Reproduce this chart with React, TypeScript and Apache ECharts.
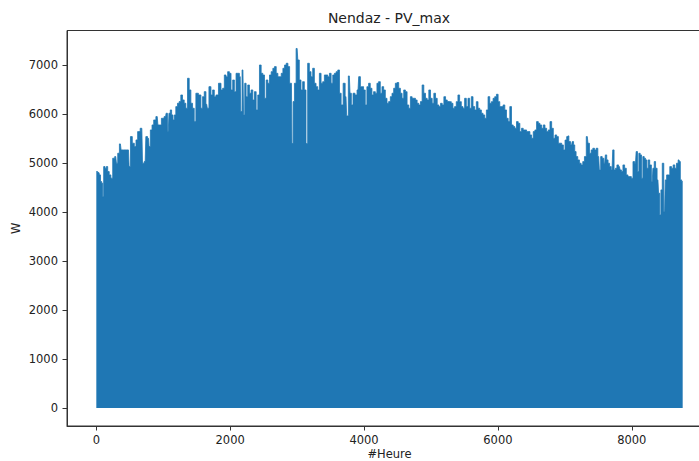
import React, { useEffect, useRef } from "react";
import * as echarts from "echarts";

const chartTitle = "Nendaz - PV_max";
const xAxisName = "#Heure";
const yAxisName = "W";
const xTickValues = [0, 2000, 4000, 6000, 8000];
const yTickValues = [0, 1000, 2000, 3000, 4000, 5000, 6000, 7000];

const hours = [
  0, 40, 55, 70, 90, 100, 120, 140, 160, 180, 205, 230, 260, 290, 310, 330, 360, 380, 430, 480,
  500, 520, 555, 580, 605, 630, 680, 700, 730, 750, 780, 795, 820, 845, 870, 910, 930, 955, 990, 1035,
  1050, 1075, 1095, 1115, 1135, 1155, 1175, 1200, 1225, 1250, 1275, 1300, 1325, 1350, 1375, 1400, 1425, 1450, 1475, 1500,
  1550, 1575, 1600, 1625, 1650, 1665, 1700, 1725, 1750, 1775, 1800, 1850, 1875, 1900, 1925, 1950, 1975, 2000, 2025, 2050,
  2075, 2100, 2125, 2150, 2165, 2190, 2210, 2225, 2250, 2275, 2300, 2325, 2350, 2375, 2400, 2425, 2450, 2475, 2500, 2525,
  2550, 2575, 2600, 2625, 2650, 2675, 2700, 2725, 2750, 2775, 2800, 2825, 2850, 2875, 2900, 2915, 2930, 2950, 2970, 3000,
  3020, 3045, 3070, 3095, 3120, 3145, 3170, 3195, 3220, 3245, 3270, 3295, 3320, 3345, 3370, 3395, 3420, 3445, 3470, 3495,
  3520, 3545, 3570, 3595, 3620, 3645, 3670, 3705, 3730, 3750, 3780, 3800, 3820, 3850, 3880, 3910, 3930, 3960, 3980, 4005,
  4030, 4055, 4080, 4105, 4130, 4155, 4180, 4205, 4230, 4255, 4280, 4305, 4330, 4355, 4380, 4405, 4430, 4455, 4480, 4505,
  4530, 4555, 4580, 4605, 4630, 4655, 4680, 4705, 4730, 4755, 4780, 4805, 4830, 4855, 4880, 4905, 4930, 4955, 4980, 5005,
  5030, 5055, 5080, 5105, 5130, 5155, 5180, 5205, 5230, 5255, 5290, 5315, 5340, 5365, 5390, 5415, 5440, 5465, 5490, 5515,
  5540, 5565, 5590, 5615, 5640, 5665, 5690, 5715, 5740, 5765, 5790, 5815, 5840, 5865, 5890, 5915, 5940, 5965, 5990, 6015,
  6040, 6065, 6090, 6115, 6140, 6165, 6190, 6215, 6240, 6265, 6290, 6315, 6340, 6365, 6390, 6415, 6440, 6465, 6490, 6515,
  6540, 6565, 6590, 6615, 6640, 6665, 6690, 6715, 6740, 6765, 6790, 6815, 6840, 6865, 6890, 6915, 6940, 6965, 6990, 7015,
  7040, 7050, 7070, 7100, 7120, 7140, 7155, 7180, 7205, 7230, 7255, 7280, 7305, 7335, 7355, 7380, 7405, 7430, 7455, 7480,
  7505, 7525, 7545, 7570, 7595, 7615, 7635, 7655, 7680, 7705, 7725, 7745, 7765, 7790, 7815, 7835, 7855, 7880, 7905, 7930,
  7955, 7980, 8005, 8030, 8055, 8075, 8095, 8115, 8135, 8155, 8175, 8195, 8215, 8235, 8255, 8280, 8305, 8325, 8345, 8365,
  8390, 8410, 8425, 8445, 8465, 8490, 8510, 8530, 8555, 8580, 8605, 8630, 8655, 8680, 8705, 8720, 8730, 8760,
];

const values = [
  4827, 4806, 4759, 4623, 4590, 4317, 4929, 4895, 4929, 4827, 4759, 4692, 5100, 5133, 4998, 5202, 5392, 5269, 5269, 5269,
  4929, 5541, 5406, 5337, 5473, 5643, 5711, 4998, 5031, 5541, 5507, 5337, 5677, 5779, 5881, 5949, 5779, 5779, 5915, 5949,
  6018, 5650, 6018, 6085, 5983, 5881, 5983, 6153, 6222, 6256, 6391, 6290, 6222, 6120, 6732, 6493, 6222, 6120, 5850, 6426,
  6391, 6120, 6357, 6459, 6200, 6120, 6561, 6391, 6493, 6357, 6391, 6630, 6493, 6528, 6799, 6765, 6867, 6833, 6493, 6697,
  6459, 6833, 6833, 6765, 6051, 6901, 5983, 6630, 6357, 6595, 6426, 6493, 6289, 6459, 6085, 6391, 7003, 6833, 6799, 6323,
  6697, 6630, 6799, 6867, 6936, 6970, 6833, 6765, 6765, 6833, 6936, 7003, 7038, 6970, 6630, 6630, 5400, 6256, 6630, 7340,
  7105, 6697, 6493, 6663, 6493, 5400, 7038, 6867, 6765, 6936, 6630, 6561, 6493, 6833, 6630, 6663, 6799, 6799, 6765, 6833,
  6630, 6799, 6833, 6867, 6901, 6426, 6187, 6630, 6357, 5963, 6779, 6426, 6187, 6426, 6391, 6493, 6765, 6561, 6561, 6493,
  6187, 6561, 6630, 6528, 6391, 6459, 6426, 6630, 6663, 6426, 6561, 6493, 6323, 6221, 6256, 6357, 6426, 6528, 6630, 6645,
  6528, 6426, 6323, 6493, 6459, 6187, 6120, 6357, 6323, 6323, 6289, 6221, 6187, 6256, 6595, 6426, 6323, 6289, 6493, 6323,
  6221, 6426, 6323, 6187, 6153, 6221, 6187, 6357, 6289, 6256, 6255, 6221, 6120, 6153, 6255, 6391, 6255, 6153, 6120, 6323,
  6153, 6323, 6120, 6357, 6153, 6085, 6255, 6120, 6085, 6018, 5983, 5915, 6085, 6357, 6221, 6255, 6323, 6357, 6405, 6255,
  6153, 6153, 6187, 6085, 5915, 5847, 6153, 5779, 5745, 5711, 5847, 5813, 5643, 5711, 5677, 5677, 5643, 5643, 5575, 5507,
  5643, 5677, 5847, 5813, 5779, 5711, 5779, 5711, 5643, 5677, 5847, 5711, 5507, 5575, 5541, 5406, 5406, 5371, 5269, 5470,
  5541, 5555, 5439, 5371, 5439, 5371, 5235, 5133, 5065, 4997, 4963, 5031, 5133, 5541, 5405, 5201, 5269, 5303, 5269, 5303,
  5133, 4861, 5133, 5099, 4997, 5167, 5065, 4997, 4929, 4861, 5269, 4861, 4895, 4963, 4929, 4861, 4827, 4963, 4895, 4759,
  4725, 4725, 4691, 5031, 4997, 5235, 4827, 5201, 5167, 4691, 5133, 5099, 5065, 4895, 5065, 4963, 4623, 4895, 5031, 4895,
  4657, 4385, 3943, 4453, 4997, 4011, 4657, 4759, 4759, 4929, 4895, 4963, 4895, 4997, 5065, 5031, 4657, 4623,
];

const FONT = "DejaVu Sans";
const TEXT = "#222";
const AXIS = "#333";
const BLUE = "#1f77b4";

export default function App() {
  const ref = useRef<HTMLDivElement>(null);

  useEffect(() => {
    const el = ref.current;
    if (!el) return;
    const chart = echarts.init(el, null, { renderer: "svg" });
    const seriesData = hours.map((h, i) => [h, values[i]]);
    const plain = (v: number) => String(v);
    chart.setOption({
      animation: false,
      backgroundColor: "#fff",
      graphic: [
        {
          type: "text",
          x: 389,
          y: 17.5,
          style: {
            text: chartTitle,
            align: "center",
            verticalAlign: "middle",
            fontFamily: FONT,
            fontSize: 14,
            fill: TEXT,
          },
        },
      ],
      grid: {
        left: 67,
        top: 30.5,
        bottom: 35,
        right: -13,
        containLabel: false,
        outerBoundsMode: "none",
        show: true,
        borderColor: AXIS,
        borderWidth: 1,
        backgroundColor: "transparent",
      },
      xAxis: {
        type: "value",
        min: -438,
        max: 9198,
        name: xAxisName,
        nameLocation: "middle",
        nameGap: 21,
        nameMoveOverlap: false,
        nameTextStyle: { fontFamily: FONT, fontSize: 11.5, color: TEXT, lineHeight: 13 },
        axisLine: { show: true, onZero: false, lineStyle: { color: AXIS, width: 1 } },
        axisTick: { show: true, customValues: xTickValues, length: 4.5, lineStyle: { color: AXIS } },
        axisLabel: { customValues: xTickValues, formatter: plain, margin: 8, fontFamily: FONT, fontSize: 11.5, color: TEXT },
        splitLine: { show: false },
      },
      yAxis: {
        type: "value",
        min: -367,
        max: 7707,
        name: yAxisName,
        nameLocation: "middle",
        nameGap: 45,
        nameMoveOverlap: false,
        nameRotate: 90,
        nameTextStyle: { fontFamily: FONT, fontSize: 11.5, color: TEXT },
        axisLine: { show: true, onZero: false, lineStyle: { color: AXIS, width: 1 } },
        axisTick: { show: true, customValues: yTickValues, length: 4.5, lineStyle: { color: AXIS } },
        axisLabel: { customValues: yTickValues, formatter: plain, margin: 9, fontFamily: FONT, fontSize: 11.5, color: TEXT },
        splitLine: { show: false },
      },
      series: [
        {
          type: "line",
          data: seriesData,
          step: "middle",
          showSymbol: false,
          symbol: "none",
          lineStyle: { color: BLUE, width: 0.8 },
          areaStyle: { color: BLUE, opacity: 1 },
          itemStyle: { color: BLUE },
        },
      ],
    });
    return () => chart.dispose();
  }, []);

  return (
    <div
      ref={ref}
      style={{ position: "fixed", left: 0, top: 0, width: 699, height: 461, background: "#fff" }}
    />
  );
}
